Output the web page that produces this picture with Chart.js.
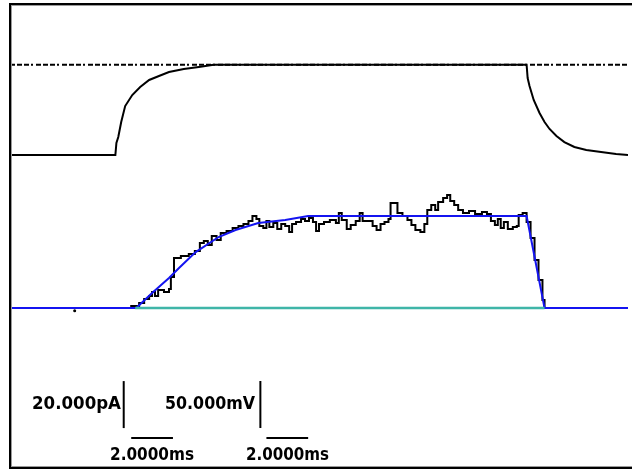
<!DOCTYPE html>
<html>
<head>
<meta charset="utf-8">
<script src="https://cdn.jsdelivr.net/npm/chart.js@4.4.1/dist/chart.umd.min.js"></script>
<style>
  html, body { margin: 0; padding: 0; background: #fff; }
  #wrap { position: relative; width: 632px; height: 471px; }
</style>
</head>
<body>
<div id="wrap"><canvas id="c" width="632" height="471"></canvas></div>
<script>
// Time in ms, current in pA, voltage in mV.

// Command voltage trace
const vTime = [0, 5.05, 5.10, 5.19, 5.33, 5.52, 5.86, 6.24, 6.67, 7.14, 7.62, 8.33, 9.05, 9.76,
  24.76, 24.81, 24.90, 25.10, 25.38, 25.62, 25.86, 26.19, 26.57, 27.05, 27.62, 28.33, 29.05, 29.62];
const vValue = [-80, -80, -67.2, -60.9, -44.9, -27.9, -16.2, -7.7, -0.2, 4.0, 8.3, 11.5, 13.6, 16,
  16, 1.9, -6.6, -21.5, -35.3, -44.9, -52.3, -59.8, -66.2, -71.5, -74.7, -76.8, -78.9, -80];

// Reference level of the voltage step
const vRefLevel = 16;

// Recorded current (each value holds until the next sample time)
const iTime = [
  0, 5.81, 6.19, 6.43, 6.67, 6.81, 6.95, 7.10, 7.38, 7.62,
  7.71, 7.86, 8.19, 8.57, 8.86, 9.10, 9.29, 9.48, 9.67, 9.90,
  10.10, 10.38, 10.67, 10.95, 11.19, 11.43, 11.62, 11.81, 11.95, 12.14,
  12.29, 12.43, 12.62, 12.81, 13.00, 13.19, 13.38, 13.52, 13.71, 13.95,
  14.14, 14.33, 14.52, 14.67, 14.81, 15.05, 15.33, 15.62, 15.76, 15.90,
  16.14, 16.33, 16.57, 16.76, 16.90, 17.14, 17.38, 17.57, 17.76, 17.95,
  18.14, 18.24, 18.57, 18.81, 19.05, 19.24, 19.43, 19.67, 19.86, 20.00,
  20.19, 20.38, 20.52, 20.76, 20.95, 21.10, 21.29, 21.48, 21.71, 22.00,
  22.29, 22.62, 22.86, 23.05, 23.24, 23.38, 23.52, 23.67, 23.86, 24.10,
  24.29, 24.38, 24.57, 24.76, 24.95, 25.14, 25.33, 25.52, 25.62];
const iValue = [
  0, 0.9, 2.1, 3.8, 5.1, 6.8, 5.1, 7.7, 6.8, 8.1,
  13.2, 21.3, 22.1, 23.0, 24.3, 27.7, 28.5, 26.8, 30.6, 28.9,
  31.9, 32.8, 34.0, 34.9, 35.7, 37.0, 39.1, 37.9, 34.9, 34.0,
  37.0, 34.5, 36.2, 33.6, 35.7, 34.9, 32.3, 35.7, 36.6, 37.9,
  37.0, 38.3, 36.6, 32.8, 35.7, 36.6, 37.4, 36.2, 40.4, 37.4,
  33.6, 35.3, 37.0, 40.4, 37.0, 37.0, 34.9, 33.2, 35.7, 36.6,
  37.9, 44.7, 40.4, 39.1, 37.4, 35.3, 33.2, 32.3, 35.7, 41.7,
  43.8, 41.7, 45.1, 46.8, 48.1, 45.5, 43.8, 41.7, 40.4, 41.3,
  40.0, 40.9, 40.0, 37.0, 35.3, 37.9, 34.0, 36.6, 33.6, 34.5,
  34.9, 39.6, 40.4, 36.6, 29.8, 20.4, 11.9, 3.4, 0];

// Fitted current
const fitTime = [0, 6.05, 6.81, 7.62, 8.10, 8.90, 10.00, 10.81, 11.90, 13.19, 14.29, 24.76, 25.62, 29.62];
const fitValue = [0, 0, 6.4, 12.8, 17.0, 23.8, 30.2, 33.2, 36.2, 37.4, 39.1, 39.1, 0, 0];

// Zero-current segment under the fitted window
const zeroTime = [6.0, 25.62];
const zeroValue = [0, 0];

// Small marker on the baseline
const markTime = [3.1];
const markValue = [-1.2];

// Calibration bars
const barCurrent = 20;   // pA
const barVoltage = 50;   // mV
const barTime = 2;       // ms
const barCurrentLabel = '20.000pA';
const barVoltageLabel = '50.000mV';
const barTimeLabel = '2.0000ms';

const pairs = (xs, ys) => xs.map((x, k) => ({ x: x, y: ys[k] }));

const frameAndBars = {
  id: 'frameAndBars',
  afterDraw(chart) {
    const ctx = chart.ctx;
    const sx = chart.scales.x, sI = chart.scales.yI, sV = chart.scales.yV;
    ctx.save();
    // frame: left, top, bottom edges
    ctx.fillStyle = '#000';
    ctx.fillRect(9, 3, 2, 466);
    ctx.fillRect(9, 3, 623, 2);
    ctx.fillRect(9, 467, 623, 2);
    ctx.fillStyle = '#9a9a9a';
    ctx.fillRect(11, 5, 1, 462);
    ctx.fillRect(11, 5, 621, 1);
    ctx.fillRect(11, 466, 621, 1);

    ctx.strokeStyle = '#000';
    ctx.lineWidth = 2;
    // current bar
    const xI = sx.getPixelForValue(5.45);
    const yI0 = sI.getPixelForValue(-51.1), yI1 = sI.getPixelForValue(-51.1 + barCurrent);
    ctx.beginPath(); ctx.moveTo(xI, yI0); ctx.lineTo(xI, yI1); ctx.stroke();
    // voltage bar
    const xV = sx.getPixelForValue(12.0);
    const yV0 = sV.getPixelForValue(-370.4), yV1 = sV.getPixelForValue(-370.4 + barVoltage);
    ctx.beginPath(); ctx.moveTo(xV, yV0); ctx.lineTo(xV, yV1); ctx.stroke();
    // time bars
    const yT = sI.getPixelForValue(-55.3);
    [5.81, 12.29].forEach(t0 => {
      ctx.beginPath();
      ctx.moveTo(sx.getPixelForValue(t0), yT);
      ctx.lineTo(sx.getPixelForValue(t0 + barTime), yT);
      ctx.stroke();
    });

    // labels, stretched to their slot widths
    ctx.fillStyle = '#000';
    ctx.textBaseline = 'middle';
    ctx.font = 'bold 17px "DejaVu Sans Condensed", "DejaVu Sans"';
    const label = (txt, left, right, y) => {
      const w = ctx.measureText(txt).width;
      ctx.save();
      ctx.translate(left, y);
      ctx.scale((right - left) / w, 1);
      ctx.textAlign = 'left';
      ctx.fillText(txt, 0, 0);
      ctx.restore();
    };
    label(barCurrentLabel, 32, 121, 405);
    label(barVoltageLabel, 165, 255, 405);
    label(barTimeLabel, 110, 194, 456);
    label(barTimeLabel, 246, 329, 456);
    ctx.restore();
  }
};

new Chart(document.getElementById('c'), {
  type: 'line',
  data: {
    datasets: [
      { data: pairs(zeroTime, zeroValue), yAxisID: 'yI', borderColor: '#3fb5a8', borderWidth: 2.5, order: 0 },
      { data: pairs(fitTime, fitValue), yAxisID: 'yI', borderColor: '#1414f0', borderWidth: 2, order: 1 },
      { data: pairs(iTime, iValue), yAxisID: 'yI', borderColor: '#000', borderWidth: 2, stepped: 'before', order: 2 },
      { data: pairs(vTime, vValue), yAxisID: 'yV', borderColor: '#000', borderWidth: 2, order: 3 },
      { data: pairs([0, 29.62], [vRefLevel, vRefLevel]), yAxisID: 'yV', borderColor: '#000', borderWidth: 2,
        borderDash: [5, 2, 5, 2, 5, 2, 2, 3], order: 4 },
      { data: pairs(markTime, markValue), yAxisID: 'yI', showLine: false, pointRadius: 1.5,
        pointBackgroundColor: '#000', pointBorderWidth: 0, order: 5 }
    ]
  },
  options: {
    responsive: false,
    animation: false,
    events: [],
    layout: { padding: { left: 10, top: 4, right: 0, bottom: 4 } },
    elements: { point: { radius: 0 }, line: { tension: 0, borderCapStyle: 'butt' } },
    plugins: { legend: { display: false }, tooltip: { enabled: false } },
    scales: {
      x: { type: 'linear', min: 0, max: 29.62, display: false },
      yI: { type: 'linear', min: -67.66, max: 129.36, display: false },
      yV: { type: 'linear', min: -411.9, max: 80.64, display: false }
    }
  },
  plugins: [frameAndBars]
});
</script>
</body>
</html>
